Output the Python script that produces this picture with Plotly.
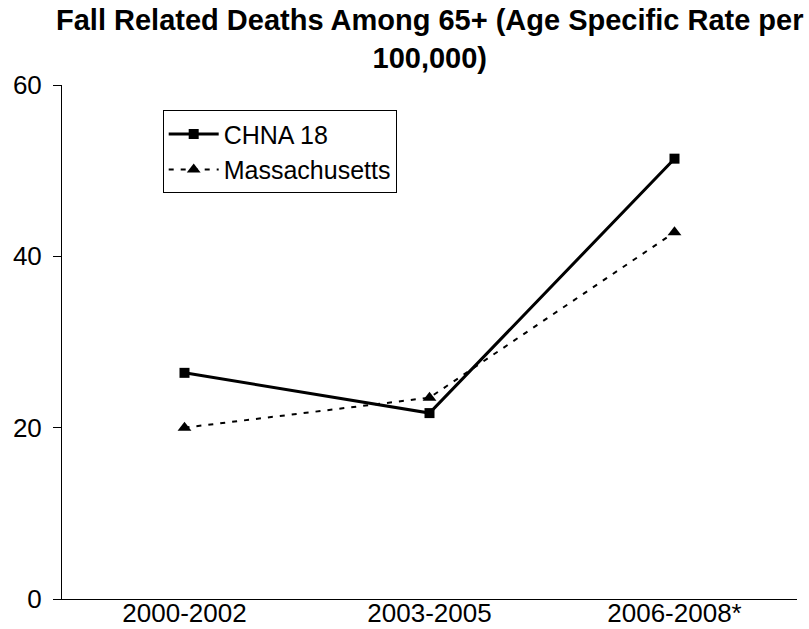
import plotly.graph_objects as go

categories = ["2000-2002", "2003-2005", "2006-2008*"]
chna18 = [26.4, 21.7, 51.4]
massachusetts = [20.0, 23.5, 42.8]
y_ticks = [0, 20, 40, 60]
title_text = "<b>Fall Related Deaths Among 65+ (Age Specific Rate per<br>100,000)</b>"

fig = go.Figure()
fig.add_trace(go.Scatter(
    x=categories, y=chna18, name="CHNA 18", mode="lines+markers",
    line=dict(color="black", width=3),
    marker=dict(symbol="square", size=10, color="black"),
))
fig.add_trace(go.Scatter(
    x=categories, y=massachusetts, name="Massachusetts", mode="lines+markers",
    line=dict(color="black", width=2, dash="5px,7px"),
    marker=dict(symbol="triangle-up", size=12, color="black"),
))

font = "Liberation Sans, Arial, sans-serif"
fig.update_layout(
    width=809, height=629,
    margin=dict(l=62, r=12, t=85, b=30),
    paper_bgcolor="white", plot_bgcolor="white",
    font=dict(family=font, size=26, color="black"),
    showlegend=True,
    legend=dict(
        x=0.137, y=0.951, xanchor="left", yanchor="top",
        bgcolor="white", bordercolor="black", borderwidth=1,
        font=dict(family=font, size=25, color="black"),
        tracegroupgap=0, itemwidth=50,
    ),
    xaxis=dict(
        type="category", range=[-0.5, 2.5], automargin=False,
        showline=True, linecolor="black", linewidth=1,
        showgrid=False, zeroline=False, ticks="",
        tickfont=dict(size=26), ticklabelstandoff=-9,
    ),
    yaxis=dict(
        range=[0, 60], tickvals=y_ticks, automargin=False,
        showline=True, linecolor="black", linewidth=1,
        showgrid=False, zeroline=False,
        ticks="outside", ticklen=8, tickcolor="black",
        tickfont=dict(size=26), ticklabelstandoff=6,
    ),
    annotations=[dict(
        text=title_text, xref="paper", yref="paper",
        x=0.5, y=1.0895, xanchor="center", yanchor="middle",
        showarrow=False, font=dict(family=font, size=29, color="black"),
    )],
)

fig.write_html("out.html")
